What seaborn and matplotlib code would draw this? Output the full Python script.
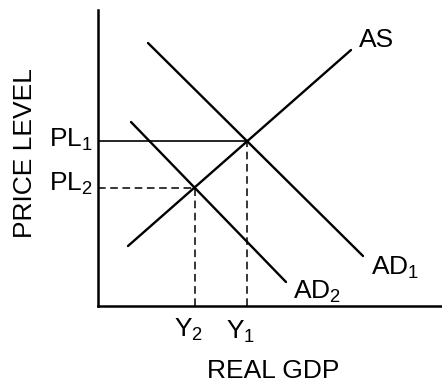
import numpy as np
import pandas as pd
import matplotlib
matplotlib.use("Agg")
import matplotlib.pyplot as plt
import seaborn as sns

# ============================
# DATA (diagram units, origin at the axes corner)
# ============================
curve_names = ["AS", "AD1", "AD2"]
as_x = [30, 253]
as_y = [60, 256]
ad1_x = [50, 265]
ad1_y = [263, 50]
ad2_x = [33, 188]
ad2_y = [184, 24]

# equilibrium points: (Y1, PL1) and (Y2, PL2)
eq_gdp = [149, 96.5]
eq_price = [165, 118.5]

df = pd.DataFrame({
    "curve": ["AS"] * 2 + ["AD1"] * 2 + ["AD2"] * 2,
    "x": as_x + ad1_x + ad2_x,
    "y": as_y + ad1_y + ad2_y,
})

# ============================
# STYLE
# ============================
sns.set_style("white")
plt.rcParams["font.family"] = ["Liberation Sans", "DejaVu Sans"]
plt.rcParams["mathtext.fontset"] = "custom"
plt.rcParams["mathtext.rm"] = "Liberation Sans"
plt.rcParams["mathtext.it"] = "Liberation Sans"

fig = plt.figure(figsize=(4.42, 3.88), dpi=100)
ax = fig.add_axes([98 / 442, 82 / 388, 344 / 442, 296 / 388])

sns.lineplot(data=df, x="x", y="y", hue="curve", units="curve",
             estimator=None, sort=False, palette=["black"] * 3,
             linewidth=1.7, legend=False, ax=ax)

# PL1 solid guide, PL2 dashed guide
ax.plot([0, eq_gdp[0]], [eq_price[0], eq_price[0]], color="black", lw=1.2)
ax.plot([0, eq_gdp[1]], [eq_price[1], eq_price[1]], color="black", lw=1.1,
        dashes=(5, 3))
# Y1, Y2 dashed guides
for gx, py in zip(eq_gdp, eq_price):
    ax.plot([gx, gx], [0, py], color="black", lw=1.1, dashes=(5, 3))

ax.set_xlim(0, 344)
ax.set_ylim(0, 296)
ax.set_xticks([])
ax.set_yticks([])
ax.set_xlabel("")
ax.set_ylabel("")
for s in ["top", "right"]:
    ax.spines[s].set_visible(False)
for s in ["left", "bottom"]:
    ax.spines[s].set_linewidth(1.8)
    ax.spines[s].set_color("black")

fs = 19
kw = dict(fontsize=fs, color="black", clip_on=False, ha="center", va="center")
ax.text(279, 266, "AS", **kw)
ax.text(297, 38, r"AD$_\mathrm{1}$", **kw)
ax.text(219, 14, r"AD$_\mathrm{2}$", **kw)
ax.text(-27, 166, r"PL$_\mathrm{1}$", **kw)
ax.text(-27, 122, r"PL$_\mathrm{2}$", **kw)
ax.text(91, -24, r"Y$_\mathrm{2}$", **kw)
ax.text(143, -26, r"Y$_\mathrm{1}$", **kw)
ax.text(175, -65, "REAL GDP", **kw)
ax.text(-73, 153, "PRICE LEVEL", rotation=90, **kw)

plt.savefig("out.png", dpi=100)
